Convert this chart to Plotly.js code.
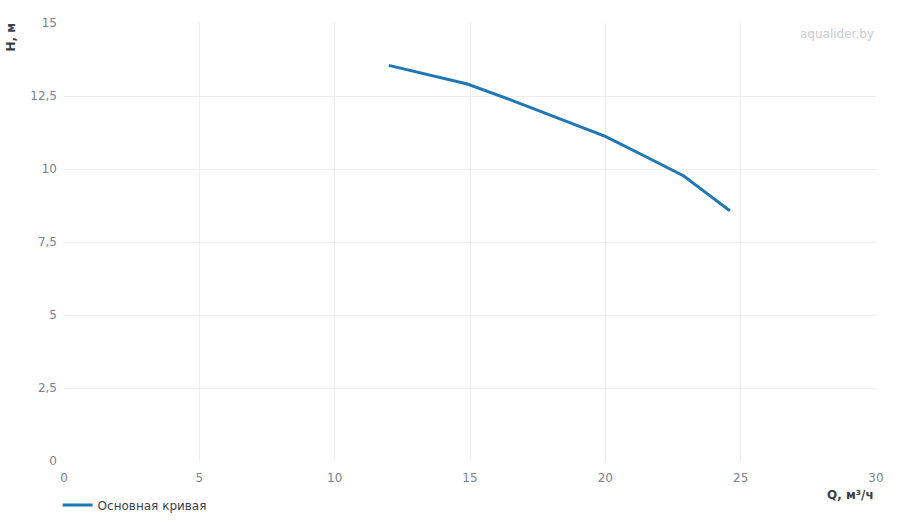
<!DOCTYPE html>
<html>
<head>
<meta charset="utf-8">
<script src="https://cdn.plot.ly/plotly-3.0.1.min.js"></script>
<style>
  html, body { margin: 0; padding: 0; background: #fff; }
  #chart { width: 900px; height: 520px; }
</style>
</head>
<body>
<div id="chart"></div>
<script>
// pump curve Q (m3/h) vs H (m)
var flowQ = [12.0, 14.9, 16.5, 18.0, 20.0, 21.5, 22.9, 23.7, 24.6];
var headH = [13.55, 12.91, 12.37, 11.84, 11.12, 10.42, 9.76, 9.2, 8.57];
var seriesName = 'Основная кривая';
var xTicks = [0, 5, 10, 15, 20, 25, 30];
var yTicks = [0, 2.5, 5, 7.5, 10, 12.5, 15];

var gridCol = '#eceef2';
var tickCol = '#7b8391';

var trace = {
  x: flowQ,
  y: headH,
  type: 'scatter',
  mode: 'lines',
  name: seriesName,
  line: { color: '#1f77b4', width: 3 },
  hoverinfo: 'x+y'
};

var layout = {
  width: 900,
  height: 520,
  margin: { l: 64, r: 24, t: 23, b: 59, autoexpand: false },
  paper_bgcolor: '#fff',
  plot_bgcolor: '#fff',
  separators: ', ',
  font: { family: 'DejaVu Sans, sans-serif', size: 12, color: '#444' },
  showlegend: true,
  legend: {
    orientation: 'h',
    xref: 'container', yref: 'container',
    x: 0.064, xanchor: 'left',
    y: 0.029, yanchor: 'middle',
    font: { size: 12, color: '#3a3f4a' }
  },
  xaxis: {
    range: [0, 30],
    tickvals: xTicks,
    showgrid: true,
    gridcolor: gridCol,
    zeroline: false,
    showline: false,
    ticks: '',
    ticklabelstandoff: 8,
    tickfont: { size: 12, color: tickCol },
    fixedrange: true
  },
  yaxis: {
    range: [0, 15],
    tickvals: yTicks,
    showgrid: true,
    gridcolor: gridCol,
    zeroline: false,
    showline: false,
    ticks: '',
    ticklabelstandoff: 6,
    tickfont: { size: 12, color: tickCol },
    fixedrange: true
  },
  annotations: [
    {
      text: '<b>H, м</b>',
      xref: 'paper', yref: 'paper',
      x: -0.065, y: 1.005,
      xanchor: 'center', yanchor: 'top',
      textangle: -90,
      showarrow: false,
      font: { size: 12, color: '#3a3f4a' }
    },
    {
      text: '<b>Q, м³/ч</b>',
      xref: 'paper', yref: 'paper',
      x: 1, y: -0.078,
      xanchor: 'right', yanchor: 'middle',
      showarrow: false,
      font: { size: 12, color: '#3a3f4a' }
    },
    {
      text: 'aqualider.by',
      xref: 'paper', yref: 'paper',
      x: 1, y: 0.995,
      xanchor: 'right', yanchor: 'top',
      showarrow: false,
      font: { size: 12, color: '#c8ccd3' }
    }
  ]
};

Plotly.newPlot('chart', [trace], layout, { displayModeBar: false, staticPlot: true });
</script>
</body>
</html>
